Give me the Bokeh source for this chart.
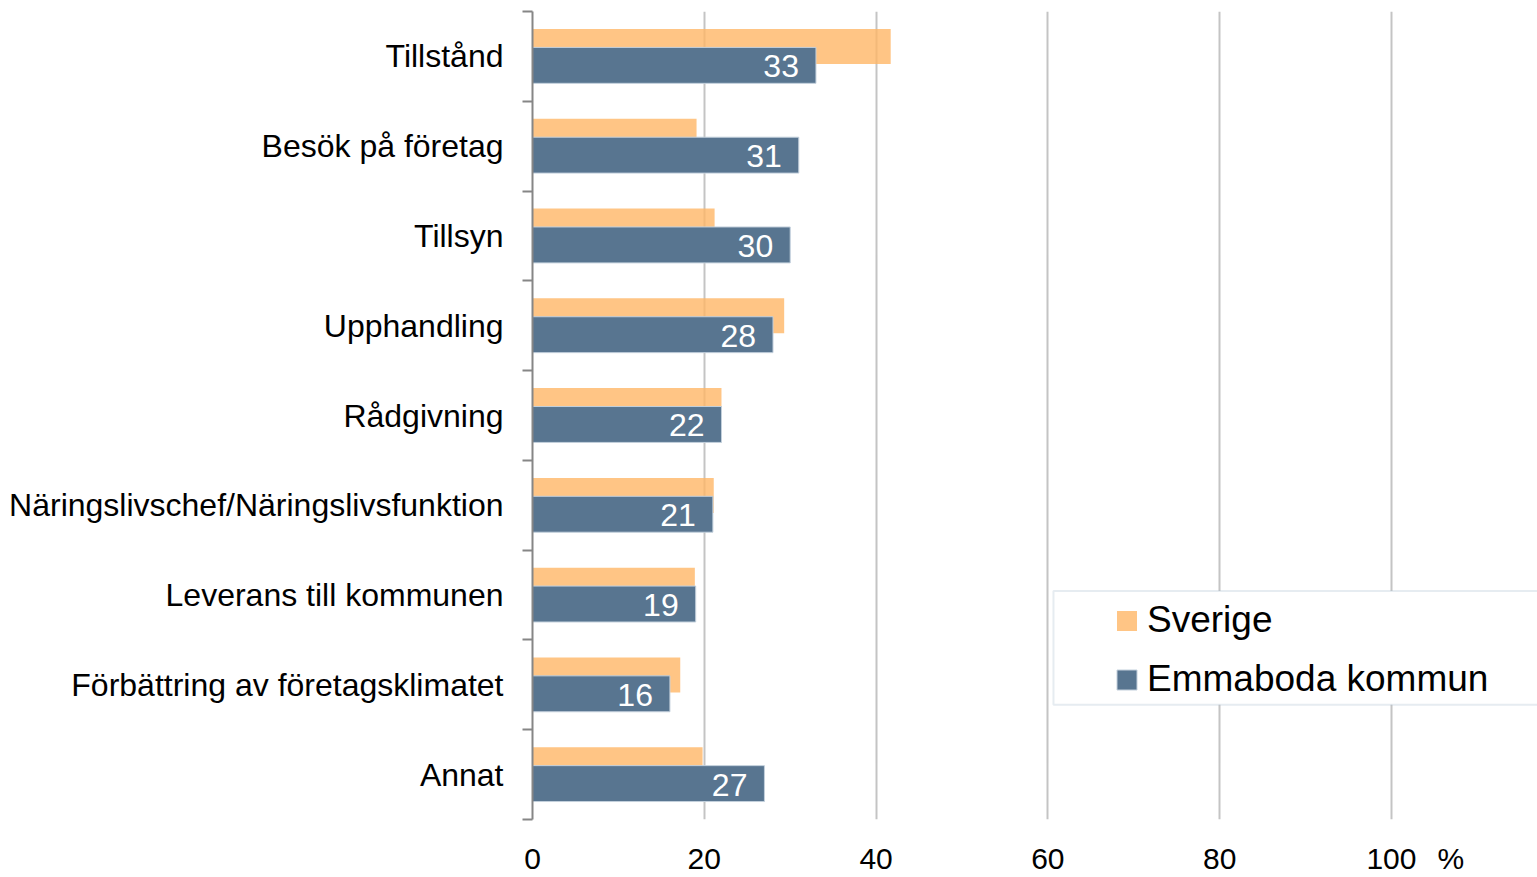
from bokeh.plotting import figure
from bokeh.models import (Range1d, FixedTicker, ColumnDataSource, LabelSet, Legend,
                          LegendItem, BoxAnnotation)
from bokeh.core.properties import value
from bokeh.embed import file_html
from bokeh.resources import INLINE

categories = ["Tillstånd", "Besök på företag", "Tillsyn", "Upphandling", "Rådgivning",
              "Näringslivschef/Näringslivsfunktion", "Leverans till kommunen",
              "Förbättring av företagsklimatet", "Annat"]
sverige = [41.7, 19.1, 21.2, 29.3, 22.0, 21.1, 18.9, 17.2, 19.8]
emmaboda = [33, 31, 30, 28, 22, 21, 19, 16, 27]
x_ticks = [0, 20, 40, 60, 80, 100]
series_names = ["Sverige", "Emmaboda kommun"]
unit_label = "%"

FONT = "Liberation Sans"
ORANGE = "#FFB767"   # drawn at alpha 0.8 -> #FFC585 on white
BLUE = "#587590"

n = len(categories)
centers = [i + 0.5 for i in range(n)]
src = ColumnDataSource(dict(
    cat=categories,
    sverige=sverige,
    emmaboda=emmaboda,
    y_s=[c - 0.11 for c in centers],
    y_e=[c + 0.10 for c in centers],
    lab=[str(v) for v in emmaboda],
))

p = figure(width=1537, height=877, output_backend="svg", toolbar_location=None,
           x_range=Range1d(0, 117.0), y_range=Range1d(n, 0),
           min_border_left=532, min_border_right=0, min_border_top=11,
           min_border_bottom=55)
p.outline_line_color = None
p.background_fill_color = "white"

r_s = p.hbar(y="y_s", left=0, right="sverige", height=0.39, source=src,
             fill_color=ORANGE, fill_alpha=0.8, line_color=None)
r_e = p.hbar(y="y_e", left=0, right="emmaboda", height=0.40, source=src,
             fill_color=BLUE, line_color="#c3d0dc", line_width=1)

p.add_layout(LabelSet(x="emmaboda", y="y_e", text="lab", source=src, x_offset=-17,
                      y_offset=-1,
                      text_align="right", text_baseline="middle", text_color="white",
                      text_font=value(FONT), text_font_size="32px"))

# x axis (the unit sign is shown as an extra tick label right of 100)
unit_pos = 106.9
p.xaxis.ticker = FixedTicker(ticks=x_ticks + [unit_pos])
p.xaxis.major_label_overrides = {unit_pos: unit_label}
p.xaxis.axis_line_color = None
p.xaxis.major_tick_line_color = None
p.xaxis.minor_tick_line_color = None
p.xaxis.major_tick_out = 0
p.xaxis.major_tick_in = 0
p.xaxis.major_label_standoff = 22
p.xaxis.major_label_text_font = FONT
p.xaxis.major_label_text_font_size = "30px"
p.xaxis.major_label_text_color = "black"

# y axis
p.yaxis.ticker = FixedTicker(ticks=centers, minor_ticks=list(range(n + 1)))
p.yaxis.major_label_overrides = {c: lab for c, lab in zip(centers, categories)}
p.yaxis.major_tick_out = 0
p.yaxis.major_tick_in = 0
p.yaxis.major_tick_line_color = None
p.yaxis.minor_tick_out = 10
p.yaxis.minor_tick_in = 0
p.yaxis.minor_tick_line_color = "#868686"
p.yaxis.minor_tick_line_width = 2
p.yaxis.axis_line_color = "#868686"
p.yaxis.axis_line_width = 2
p.yaxis.major_label_standoff = 19
p.yaxis.major_label_text_font = FONT
p.yaxis.major_label_text_font_size = "32px"
p.yaxis.major_label_text_color = "black"

p.ygrid.grid_line_color = None
p.xgrid.ticker = FixedTicker(ticks=x_ticks[1:])
p.xgrid.grid_line_color = "#c4c4c4"
p.xgrid.grid_line_width = 2

# legend frame
p.add_layout(BoxAnnotation(left=60.65, right=130, top=6.456, bottom=7.722,
                           fill_color="white", fill_alpha=1.0,
                           line_color="#adc0d2", line_width=2))

legend = Legend(items=[LegendItem(label=series_names[0], renderers=[r_s]),
                       LegendItem(label=series_names[1], renderers=[r_e])],
                location=(582, 119), border_line_alpha=0, background_fill_alpha=0,
                padding=0, margin=0, spacing=17, glyph_width=25, glyph_height=25,
                label_standoff=8, label_text_font=FONT, label_text_font_size="37px",
                label_text_color="black")
p.add_layout(legend, "center")

open("out.html", "w").write(file_html(p, INLINE))
